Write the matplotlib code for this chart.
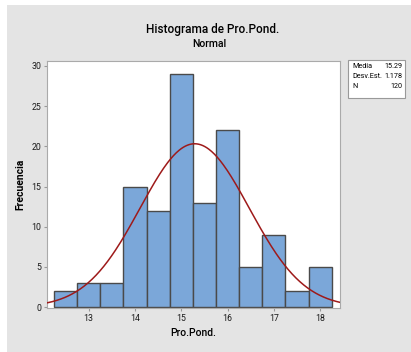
import numpy as np
import matplotlib
matplotlib.use("Agg")
import matplotlib.pyplot as plt
from matplotlib.patches import Rectangle

plt.rcParams['font.family'] = ['Roboto', 'DejaVu Sans']

# datos del histograma
centros = [12.5, 13.0, 13.5, 14.0, 14.5, 15.0, 15.5, 16.0, 16.5, 17.0, 17.5, 18.0]
frecuencias = [2, 3, 3, 15, 12, 29, 13, 22, 5, 9, 2, 5]
ancho = 0.5
media = 15.29
desv = 1.178
n = 120

fig = plt.figure(figsize=(4.11, 3.52), dpi=100)
fig.patch.set_facecolor('white')
# panel gris de fondo
fig.patches.append(Rectangle((7/411, 0), 1, 1 - 5/352, transform=fig.transFigure,
                             facecolor='#e4e4e4', edgecolor='none', zorder=-10))

ax = fig.add_axes([47/411, 1 - 308/352, (340 - 47)/411, (308 - 61)/352])
ax.bar(centros, frecuencias, width=ancho, color='#7ba7d9', edgecolor='#4a4a4a', linewidth=1.0, zorder=2)

x = np.linspace(12.1, 18.43, 300)
y = n * ancho * np.exp(-0.5 * ((x - media) / desv) ** 2) / (desv * np.sqrt(2 * np.pi))
ax.plot(x, y, color='#9e1a1a', linewidth=1.1, zorder=3)

ax.set_xlim(12.1, 18.43)
ax.set_ylim(-0.12, 30.62)
ax.set_xticks([13, 14, 15, 16, 17, 18])
ax.set_yticks([0, 5, 10, 15, 20, 25, 30])
ax.tick_params(labelsize=6.3, length=2, color='#999999', pad=2, labelcolor='#1a1a1a')
for s in ax.spines.values():
    s.set_color('#aaaaaa')
    s.set_linewidth(0.8)

ax.set_xlabel('Pro.Pond.', fontsize=7.5, fontweight='medium', labelpad=4)
ax.set_ylabel('Frecuencia', fontsize=7.5, fontweight='bold')
ax.yaxis.set_label_coords(-0.075, 0.5)

fig.text(213/411, 1 - 29/352, 'Histograma de Pro.Pond.', ha='center', va='center',
         fontsize=8.5, fontweight='medium')
fig.text(209/411, 1 - 44/352, 'Normal', ha='center', va='center', fontsize=7.5, fontweight='medium')

# cuadro de estadísticas
fig.patches.append(Rectangle((348/411, 1 - 98/352), 57/411, 38/352, transform=fig.transFigure,
                             facecolor='white', edgecolor='#999999', linewidth=0.8))
filas = [('Media', '15.29'), ('Desv.Est.', '1.178'), ('N', '120')]
for i, (k, v) in enumerate(filas):
    yy = 1 - (67 + i * 10) / 352
    fig.text(352/411, yy, k, ha='left', va='center', fontsize=5.2)
    fig.text(402/411, yy, v, ha='right', va='center', fontsize=5.2)

fig.savefig('out.png', dpi=100)
